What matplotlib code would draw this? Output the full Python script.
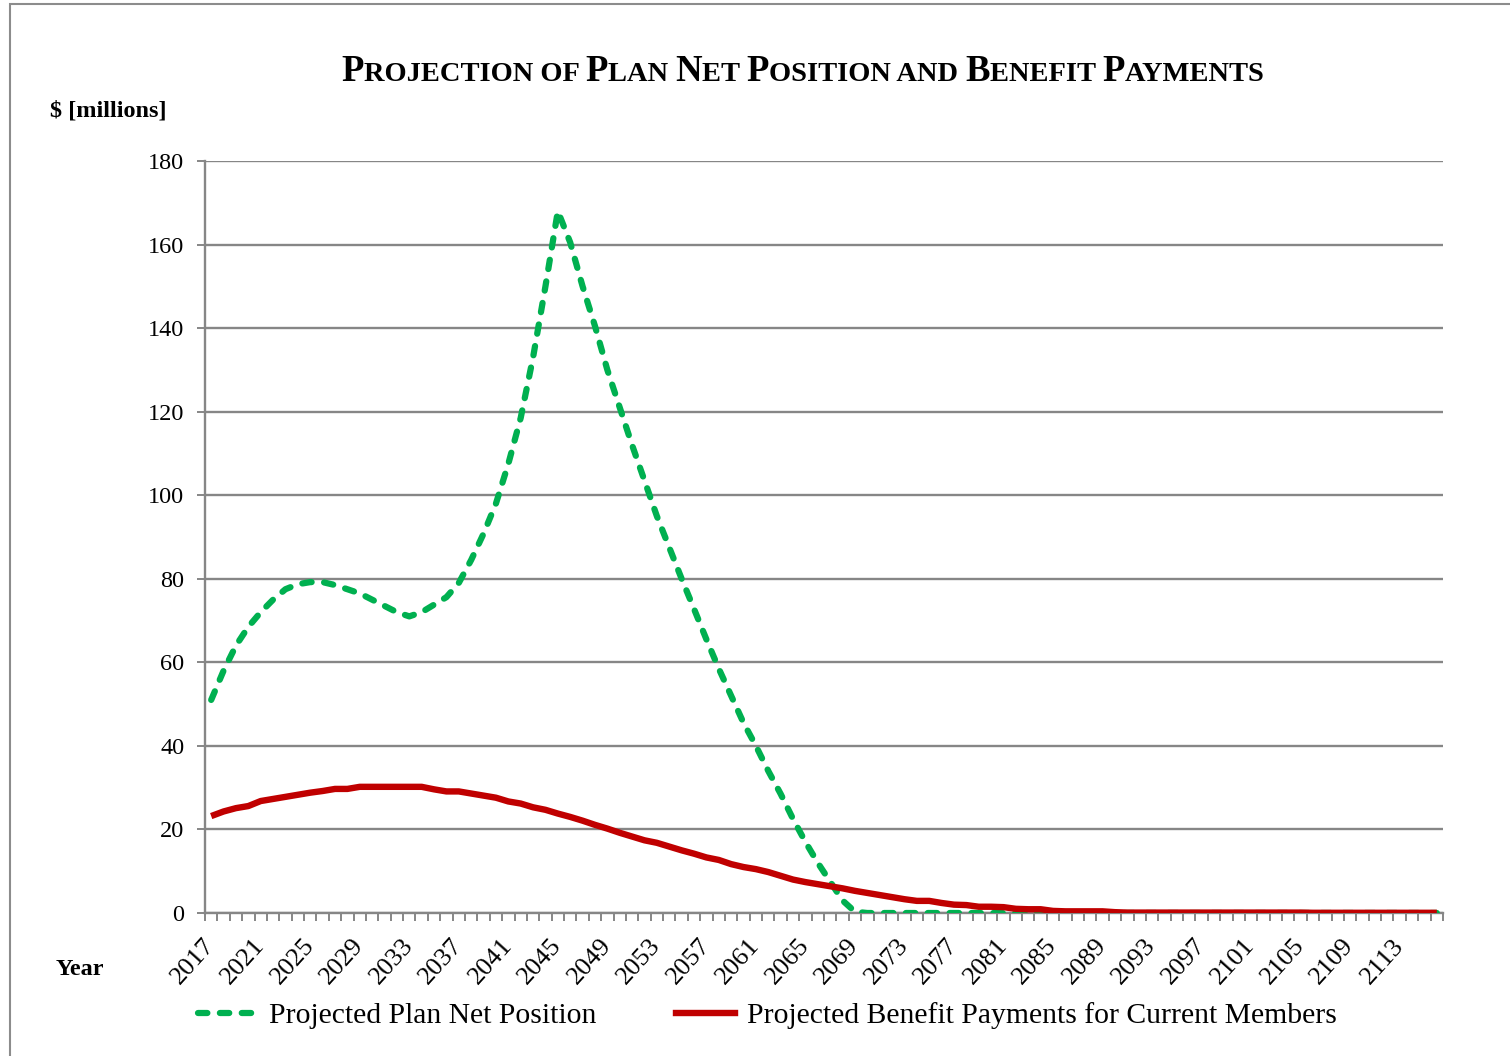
import matplotlib
matplotlib.use("Agg")
import matplotlib.pyplot as plt
from matplotlib.lines import Line2D
from matplotlib.patches import Rectangle
from matplotlib.offsetbox import TextArea, HPacker, AnchoredOffsetbox

plt.rcParams['font.family'] = ['Liberation Serif', 'DejaVu Serif']

years = list(range(2017, 2117))

net_position = [
    51, 58, 64, 68.5, 72, 75, 77.5, 78.7, 79.2, 79.2,
    78.5, 77.5, 76.5, 75, 73.5, 72, 71, 72, 73.8, 75.6,
    79, 84.5, 90.8, 98, 107.5, 118.5, 133, 150, 168, 160.5,
    150, 140.5, 130, 121, 112, 103.5, 95, 87.5, 80,
    72.8, 65.5, 58.5, 52, 45.5, 40, 34, 28.5, 22.5, 17,
    12, 7.5, 3, 0.3,
    0, 0, 0, 0, 0, 0, 0, 0, 0, 0,
    0, 0, 0, 0, 0, 0, 0, 0, 0, 0,
    0, 0, 0, 0, 0, 0, 0, 0, 0, 0,
    0, 0, 0, 0, 0, 0, 0, 0, 0, 0,
    0, 0, 0, 0, 0, 0, 0,
]

benefit_payments = [
    23.2, 24.3, 25.1, 25.6, 26.8, 27.3, 27.8, 28.3, 28.8, 29.2,
    29.7, 29.7, 30.2, 30.2, 30.2, 30.2, 30.2, 30.2, 29.6, 29.1,
    29.1, 28.6, 28.1, 27.6, 26.7, 26.2, 25.3, 24.7, 23.8, 23.0,
    22.1, 21.1, 20.2, 19.2, 18.3, 17.4, 16.8, 15.9, 15.0,
    14.2, 13.3, 12.7, 11.7, 11.0, 10.5, 9.8, 8.9, 8.0, 7.4,
    6.9, 6.4, 5.9, 5.3, 4.8, 4.3, 3.8, 3.3, 2.9, 2.9,
    2.4, 2.0, 1.9, 1.5, 1.5, 1.4, 1.0, 0.9, 0.9, 0.5,
    0.4, 0.4, 0.4, 0.4, 0.2,
    0.1, 0.1, 0.1, 0.1, 0.1, 0.1, 0.1, 0.1, 0.1, 0.1,
    0.1, 0.1, 0.1, 0.1, 0.1,
    0.05, 0.05, 0.05, 0.05, 0.05, 0.05, 0.05, 0.05, 0.05, 0.05, 0.05,
]

y_ticks = [0, 20, 40, 60, 80, 100, 120, 140, 160, 180]
label_names = ["Projected Plan Net Position",
               "Projected Benefit Payments for Current Members"]

W, H = 1510, 1056
fig = plt.figure(figsize=(W / 100, H / 100), dpi=100)
fig.patch.set_facecolor('white')

ax = fig.add_axes([205 / W, 1 - 913 / H, (1443 - 205) / W, (913 - 161) / H])

grey = '#868686'
xs = list(range(len(years)))

ax.plot(xs, net_position, color='#00B050', lw=4.5,
        linestyle=(0, (1.5, 2.0)), dash_capstyle='round', zorder=3)
ax.plot(xs, benefit_payments, color='#C00000', lw=4.6,
        solid_capstyle='butt', solid_joinstyle='round', zorder=4)

ax.set_xlim(-0.5, len(years) - 0.5)
ax.set_ylim(0, 180)
ax.set_yticks(y_ticks)
ax.set_yticklabels([str(v) for v in y_ticks])
ax.grid(axis='y', color=grey, lw=1.7)
ax.set_axisbelow(True)

major = xs[::4]
ax.set_xticks(major)
ax.set_xticklabels([str(years[i]) for i in major], rotation=48,
                   ha='right', va='center', rotation_mode='anchor')
ax.set_xticks([i - 0.5 for i in range(len(years) + 1)], minor=True)
ax.tick_params(axis='x', which='major', length=0, pad=21, labelsize=19)
ax.tick_params(axis='x', which='minor', length=5.5, width=1.4, color=grey, direction='out')
ax.tick_params(axis='y', length=6, width=1.4, color=grey, pad=9, labelsize=17.5)

for side in ['top', 'right']:
    ax.spines[side].set_visible(False)
for side in ['left', 'bottom']:
    ax.spines[side].set_color(grey)
    ax.spines[side].set_linewidth(1.7)

# Title in small caps style
big, small = 26.5, 20.5
parts = [("P", big), ("ROJECTION OF ", small), ("P", big), ("LAN ", small),
         ("N", big), ("ET ", small), ("P", big), ("OSITION AND ", small),
         ("B", big), ("ENEFIT ", small), ("P", big), ("AYMENTS", small)]
areas = [TextArea(t, textprops=dict(fontsize=s, fontweight='bold', color='black'))
         for t, s in parts]
pack = HPacker(children=areas, align='baseline', pad=0, sep=0)
anch = AnchoredOffsetbox(loc='center', child=pack, pad=0, borderpad=0, frameon=False,
                         bbox_to_anchor=(803 / W, 1 - 72 / H),
                         bbox_transform=fig.transFigure)
fig.add_artist(anch)

fig.text(50 / W, 1 - 116 / H, "$ [millions]", fontsize=17.5, fontweight='bold',
         ha='left', va='baseline')
fig.text(56 / W, 1 - 975 / H, "Year", fontsize=17.5, fontweight='bold',
         ha='left', va='baseline')

handles = [Line2D([], [], color='#00B050', lw=4.5, linestyle=(0, (1.5, 2.0)),
                  dash_capstyle='round'),
           Line2D([], [], color='#C00000', lw=4.6)]
fig.legend(handles, label_names, loc='center left', ncol=2,
           bbox_to_anchor=(198 / W, 1 - 1016 / H), frameon=False,
           fontsize=21.3, handlelength=2.0, handletextpad=0.4,
           columnspacing=2.7, borderpad=0, borderaxespad=0)

fig.add_artist(Rectangle((10 / W, -0.1), 1.2, (1 - 4 / H) + 0.1,
                         transform=fig.transFigure, fill=False,
                         edgecolor='#8c8c8c', lw=1.5))

fig.savefig('out.png', dpi=100)
